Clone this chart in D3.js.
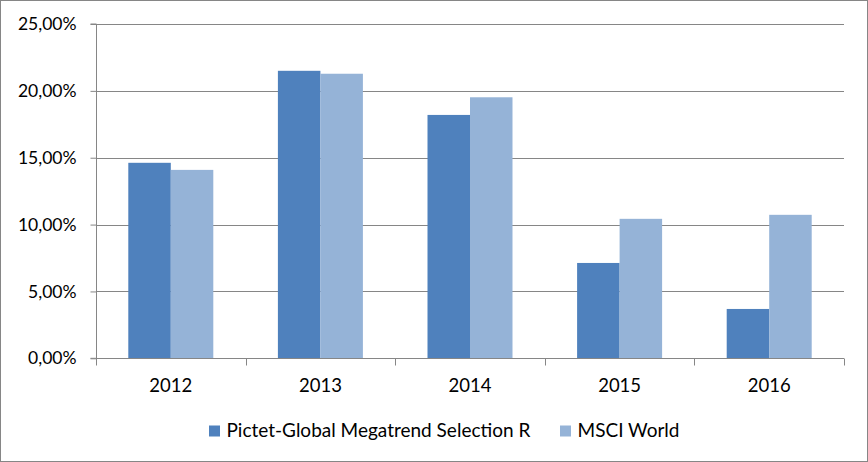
<!DOCTYPE html>
<html><head><meta charset="utf-8">
<script src="https://cdn.jsdelivr.net/npm/d3@7"></script>
<style>body{margin:0;background:#fff}svg{display:block}text{font-family:Lato,"Open Sans",sans-serif;fill:#000}</style>
</head><body>
<script>
const categories = ["2012","2013","2014","2015","2016"];
const seriesNames = ["Pictet-Global Megatrend Selection R","MSCI World"];
const pictet = [14.62,21.50,18.20,7.13,3.69];
const msci = [14.09,21.28,19.52,10.43,10.73];
const yTicks = [0,5,10,15,20,25];
const colors = ["#4F81BD","#95B3D7"];

const W=868,H=462;
const m={left:96,right:24,top:24,bottom:104};
const svg=d3.select("body").append("svg").attr("width",W).attr("height",H);
svg.append("rect").attr("x",0.5).attr("y",0.5).attr("width",W-1).attr("height",H-1).attr("fill","#fff").attr("stroke","#868686");

const x=d3.scaleBand().domain(categories).range([m.left,W-m.right]).paddingInner(0).paddingOuter(0);
const y=d3.scaleLinear().domain([0,25]).range([358.3,24]);
const bw=x.bandwidth();
const barW=bw/(2+1.52);
const x1=d3.scaleBand().domain([0,1]).range([0,barW*2]);

// gridlines
svg.append("g").selectAll("line").data(yTicks.filter(d=>d>0)).join("line")
  .attr("x1",m.left).attr("x2",W-m.right).attr("y1",d=>Math.round(y(d))+0.5).attr("y2",d=>Math.round(y(d))+0.5)
  .attr("stroke","#868686").attr("stroke-width",1);

// bars
const series=[pictet,msci];
series.forEach((vals,si)=>{
  svg.append("g").selectAll("rect").data(vals).join("rect")
    .attr("x",(d,i)=>x(categories[i])+(bw-barW*2)/2+x1(si))
    .attr("width",barW)
    .attr("y",d=>y(d)).attr("height",d=>y(0)-y(d))
    .attr("fill",colors[si]);
});

// y axis
const yAxis=d3.axisLeft(y).tickValues(yTicks).tickSize(6).tickPadding(14)
  .tickFormat(d=>d3.format(".2f")(d).replace(".",",")+"%");
const gy=svg.append("g").attr("transform",`translate(${m.left+0.5},0)`).call(yAxis);
gy.select(".domain").attr("stroke","#868686").attr("d",`M-6,${y(25)}H0V${y(0)}H-6`);
gy.selectAll(".tick line").attr("stroke","#868686");
gy.selectAll(".tick text").attr("font-size",17.5).attr("font-family","Lato").attr("fill","#000");

// x axis
const xAxis=d3.axisBottom(x).tickSize(0).tickPadding(20);
const gx=svg.append("g").attr("transform",`translate(0,${Math.round(y(0))+0.5})`).call(xAxis);
gx.select(".domain").attr("stroke","#868686").attr("d",`M${m.left},0H${W-m.right}`);
gx.selectAll(".tick text").attr("font-size",18.5).attr("font-family","Lato").attr("fill","#000");
const bounds=categories.map(c=>x(c)).concat([x(categories[categories.length-1])+bw]);
gx.append("g").selectAll("line").data(bounds).join("line")
  .attr("x1",d=>Math.round(d)+0.5).attr("x2",d=>Math.round(d)+0.5).attr("y1",0).attr("y2",7).attr("stroke","#868686");

// legend
const legX=[209,560];
const lg=svg.append("g");
seriesNames.forEach((n,i)=>{
  lg.append("rect").attr("x",legX[i]).attr("y",425.5).attr("width",11).attr("height",11).attr("fill",colors[i]);
  lg.append("text").attr("x",legX[i]+17.5).attr("y",437).attr("font-size",19).text(n);
});
</script>
</body></html>
